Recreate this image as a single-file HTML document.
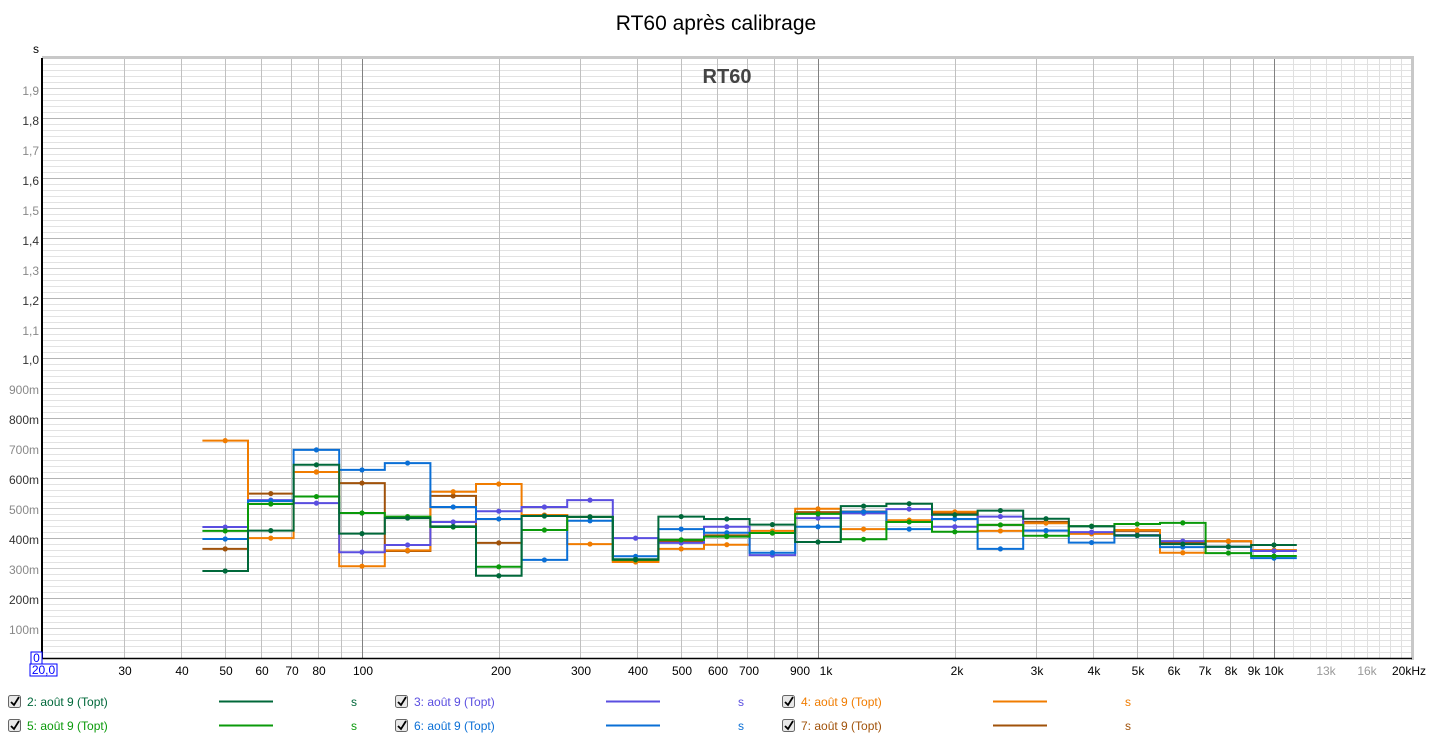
<!DOCTYPE html>
<html><head><meta charset="utf-8"><style>
body{margin:0;background:#fff;width:1433px;height:740px;overflow:hidden;font-family:"Liberation Sans",sans-serif}
svg{position:absolute;left:0;top:0}
</style></head><body>
<svg id="s" width="1433" height="740" xmlns="http://www.w3.org/2000/svg" font-family="Liberation Sans, sans-serif">
<rect width="1433" height="740" fill="#fff"/>
<text x="716" y="30" font-size="21" text-anchor="middle" fill="#000">RT60 après calibrage</text>
<text x="36" y="53" font-size="12" text-anchor="middle" fill="#000">s</text>
<g id="grid"></g>
<rect x="42" y="56" width="1370" height="3" fill="#c8c8c8"/>
<rect x="1411" y="56" width="3" height="604" fill="#c8c8c8"/>
<line x1="42" y1="58" x2="42" y2="659" stroke="#000" stroke-width="2"/>
<line x1="41" y1="658.5" x2="1412" y2="658.5" stroke="#000" stroke-width="1.5"/>
<text x="727" y="83" font-size="20" font-weight="bold" text-anchor="middle" fill="#444">RT60</text>
<g id="data"></g>
<g font-size="12" text-anchor="end">
<text x="39" y="95" fill="#888">1,9</text><text x="39" y="125" fill="#333">1,8</text>
<text x="39" y="155" fill="#888">1,7</text><text x="39" y="185" fill="#333">1,6</text>
<text x="39" y="215" fill="#888">1,5</text><text x="39" y="245" fill="#333">1,4</text>
<text x="39" y="275" fill="#888">1,3</text><text x="39" y="305" fill="#333">1,2</text>
<text x="39" y="335" fill="#888">1,1</text><text x="39" y="364" fill="#333">1,0</text>
<text x="39" y="394" fill="#888">900m</text><text x="39" y="424" fill="#333">800m</text>
<text x="39" y="454" fill="#888">700m</text><text x="39" y="484" fill="#333">600m</text>
<text x="39" y="514" fill="#888">500m</text><text x="39" y="544" fill="#333">400m</text>
<text x="39" y="574" fill="#888">300m</text><text x="39" y="604" fill="#333">200m</text>
<text x="39" y="634" fill="#888">100m</text>
</g>
<rect x="31" y="652" width="11" height="12" fill="#fff" stroke="#00f"/>
<text x="36.5" y="662" font-size="12" text-anchor="middle" fill="#00f">0</text>
<rect x="30" y="664" width="27" height="12" fill="#fff" stroke="#00f"/>
<text x="43.5" y="674" font-size="12" text-anchor="middle" fill="#00f">20,0</text>
<g font-size="12" text-anchor="middle" fill="#000">
<text x="125" y="675">30</text><text x="182" y="675">40</text><text x="226" y="675">50</text>
<text x="262" y="675">60</text><text x="292" y="675">70</text><text x="319" y="675">80</text>
<text x="363" y="675">100</text><text x="501" y="675">200</text><text x="581" y="675">300</text>
<text x="638" y="675">400</text><text x="682" y="675">500</text><text x="718" y="675">600</text>
<text x="749" y="675">700</text><text x="800" y="675">900</text><text x="826" y="675">1k</text>
<text x="957" y="675">2k</text><text x="1037" y="675">3k</text><text x="1094" y="675">4k</text>
<text x="1138" y="675">5k</text><text x="1174" y="675">6k</text><text x="1205" y="675">7k</text>
<text x="1231" y="675">8k</text><text x="1254" y="675">9k</text><text x="1274" y="675">10k</text>
<text x="1326" y="675" fill="#999">13k</text><text x="1367" y="675" fill="#999">16k</text>
<text x="1409" y="675">20kHz</text>
</g>
<g id="leg" font-size="12"></g>
<g font-size="12">
<text x="27" y="706" fill="#00683a">2: août 9 (Topt)</text>
<text x="414" y="706" fill="#5a4ee0">3: août 9 (Topt)</text>
<text x="801" y="706" fill="#f07c00">4: août 9 (Topt)</text>
<text x="27" y="730" fill="#0a9a0a">5: août 9 (Topt)</text>
<text x="414" y="730" fill="#0a6fd6">6: août 9 (Topt)</text>
<text x="801" y="730" fill="#a0520a">7: août 9 (Topt)</text>
<text x="351" y="706" fill="#00683a">s</text><text x="738" y="706" fill="#5a4ee0">s</text><text x="1125" y="706" fill="#f07c00">s</text>
<text x="351" y="730" fill="#0a9a0a">s</text><text x="738" y="730" fill="#0a6fd6">s</text><text x="1125" y="730" fill="#a0520a">s</text>
</g>
</svg>
<script>
var NS="http://www.w3.org/2000/svg";
function el(p,t,a){var e=document.createElementNS(NS,t);for(var k in a)e.setAttribute(k,a[k]);p.appendChild(e);return e;}
function X(f){return 362+456*Math.log10(f/100);}
function Y(v){return 658-v*0.299;}
var g=document.getElementById('grid');
for(var i=1;i<100;i++){var y=658-i*6;var c=(i%5==0)?((i%10==0)?'#b4b4b4':'#cfcfcf'):'#e2e2e2';
 el(g,'line',{x1:43,x2:1411,y1:y+0.5,y2:y+0.5,stroke:c});}
[30,40,50,60,70,80,90,200,300,400,500,600,700,800,900,2000,3000,4000,5000,6000,7000,8000,9000].forEach(function(f){var x=Math.round(X(f))+0.5;el(g,'line',{x1:x,x2:x,y1:59,y2:658,stroke:'#c0c0c0'});});
for(var f=11000;f<20000;f+=1000){var x=Math.round(X(f))+0.5;el(g,'line',{x1:x,x2:x,y1:59,y2:658,stroke:'#e0e0e0'});}
[100,1000,10000].forEach(function(f){var x=Math.round(X(f))+0.5;el(g,'line',{x1:x,x2:x,y1:59,y2:658,stroke:'#808080'});});
var S=[
['#00683a',[291,426,646,416,468,440,275,475,472,330,473,465,446,388,508,516,479,493,466,440,410,381,372,378]],
['#5a4ee0',[438,528,518,354,378,455,491,505,528,401,385,439,344,468,484,498,439,473,426,421,411,391,372,358]],
['#f07c00',[727,401,622,307,360,556,582,478,381,321,365,379,425,499,431,461,489,425,451,415,428,352,391,361]],
['#0a9a0a',[425,515,540,485,473,438,305,428,472,328,395,406,418,482,397,455,422,445,409,441,448,452,351,341]],
['#0a6fd6',[398,525,696,629,652,505,465,328,459,340,431,419,352,439,489,431,465,365,426,386,409,371,372,334]],
['#a0520a',[365,550,622,585,358,542,385,478,472,326,390,410,418,488,490,458,485,445,455,418,425,385,390,360]]];
var d=document.getElementById('data');
var order=[5,2,1,4,3,0];
order.forEach(function(si){var s=S[si],pts=[],dots=[];
 for(var k=0;k<24;k++){var fc=1000*Math.pow(10,(k-13)/10);var x0=X(fc/Math.pow(10,0.05)),x1=X(fc*Math.pow(10,0.05)),y=Y(s[1][k]);
  pts.push(x0.toFixed(1)+','+y.toFixed(1));pts.push(x1.toFixed(1)+','+y.toFixed(1));dots.push([X(fc),y]);}
 el(d,'polyline',{points:pts.join(' '),fill:'none',stroke:s[0],'stroke-width':2});
 dots.forEach(function(p){el(d,'circle',{cx:p[0],cy:p[1],r:2.6,fill:s[0]});});
});
var L=document.getElementById('leg');
var pos=[[8,695],[395,695],[782,695],[8,719],[395,719],[782,719]];
pos.forEach(function(p,i){
 el(L,'rect',{x:p[0]+0.5,y:p[1]+0.5,width:12,height:12,rx:2,fill:'#e8e8e8',stroke:'#666'});
 el(L,'path',{d:'M'+(p[0]+3)+' '+(p[1]+7)+' l3 3 l5 -8',fill:'none',stroke:'#000','stroke-width':1.8});
 el(L,'line',{x1:p[0]+211,x2:p[0]+265,y1:p[1]+6.5,y2:p[1]+6.5,stroke:S[i][0],'stroke-width':2});
});
</script>
</body></html>
